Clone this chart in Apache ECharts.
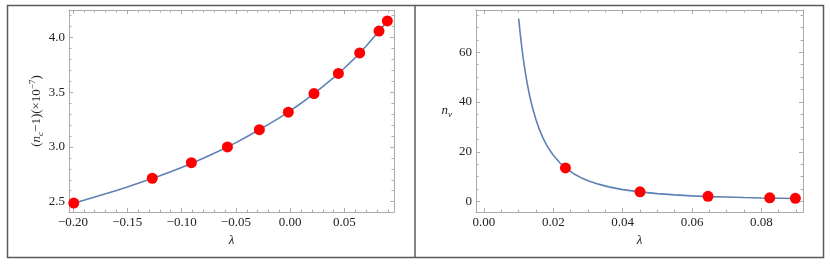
<!DOCTYPE html>
<html>
<head>
    <meta charset="utf-8">
    <title>ECharts</title>
    <script src="https://cdn.jsdelivr.net/npm/echarts@6/dist/echarts.min.js"></script>
</head>
<body style="margin:0;background:#fff;">
<div id="main" style="width: 830px;height:264px;"></div>
<script type="text/javascript">
    // left panel: (n_c - 1) against lambda, fitted curve + measured points
    var leftCurveLambda = [-0.1993, -0.19, -0.18, -0.17, -0.16, -0.15, -0.14, -0.13, -0.12, -0.11, -0.10,
                           -0.09, -0.08, -0.07, -0.06, -0.05, -0.04, -0.03, -0.02, -0.01, 0.00,
                           0.01, 0.02, 0.03, 0.04, 0.05, 0.06, 0.07, 0.08, 0.0895];
    var leftCurveIndex  = [2.487, 2.513, 2.542, 2.572, 2.603, 2.635, 2.668, 2.702, 2.737, 2.774, 2.813,
                           2.854, 2.897, 2.942, 2.989, 3.039, 3.092, 3.148, 3.205, 3.265, 3.328,
                           3.398, 3.472, 3.55, 3.632, 3.72, 3.815, 3.92, 4.035, 4.149];
    var leftLambda = [-0.1993, -0.127, -0.091, -0.0578, -0.0284, -0.0017, 0.0219, 0.0444, 0.064, 0.0818, 0.0895];
    var leftIndex  = [2.487, 2.714, 2.856, 3.0, 3.157, 3.317, 3.487, 3.67, 3.857, 4.057, 4.149];

    // right panel: n_v against lambda (curve + points)
    var curveLambda = [0.0100, 0.0105, 0.011, 0.0115, 0.012, 0.0125, 0.013, 0.0135, 0.014, 0.015, 0.016,
                       0.017, 0.018, 0.019, 0.020, 0.022, 0.024, 0.026, 0.028, 0.030, 0.033, 0.036,
                       0.040, 0.045, 0.050, 0.055, 0.060, 0.065, 0.070, 0.075, 0.080, 0.085, 0.090];
    var curveNv     = [73.6, 66.8, 60.9, 55.7, 51.2, 47.2, 43.7, 40.5, 37.7, 32.9, 28.9,
                       25.6, 22.9, 20.6, 18.6, 15.4, 13.0, 11.1, 9.6, 8.4, 7.0, 5.9,
                       4.8, 3.9, 3.2, 2.7, 2.3, 2.0, 1.8, 1.6, 1.45, 1.35, 1.25];
    var pointLambda = [0.0235, 0.045, 0.0646, 0.0824, 0.0898];
    var pointNv     = [13.5, 3.9, 2.1, 1.5, 1.3];

    // tick positions
    var leftXMajor = [-0.20, -0.15, -0.10, -0.05, 0.00, 0.05];
    var leftXMinor = [-0.19, -0.18, -0.17, -0.16, -0.14, -0.13, -0.12, -0.11, -0.09, -0.08, -0.07, -0.06,
                      -0.04, -0.03, -0.02, -0.01, 0.01, 0.02, 0.03, 0.04, 0.06, 0.07, 0.08, 0.09];
    var leftYMajor = [2.5, 3.0, 3.5, 4.0];
    var leftYMinor = [2.6, 2.7, 2.8, 2.9, 3.1, 3.2, 3.3, 3.4, 3.6, 3.7, 3.8, 3.9, 4.1, 4.2];
    var rightXMajor = [0, 0.02, 0.04, 0.06, 0.08];
    var rightXMinor = [0.005, 0.01, 0.015, 0.025, 0.03, 0.035, 0.045, 0.05, 0.055, 0.065, 0.07, 0.075, 0.085, 0.09];
    var rightYMajor = [0, 20, 40, 60];
    var rightYMinor = [5, 10, 15, 25, 30, 35, 45, 50, 55, 65, 70, 75];

    var FONT = 'Liberation Serif';
    var FRAME = '#ababab';

    function pairs(xs, ys) {
        return xs.map(function (x, i) { return [x, ys[i]]; });
    }

    // one axis of the frame; major ones carry the line (and labels if wanted)
    function axis(opt) {
        var major = opt.major;
        var a = {
            type: 'value',
            gridIndex: opt.grid,
            position: opt.position,
            min: opt.min,
            max: opt.max,
            splitLine: { show: false },
            axisLine: { show: major, onZero: false, lineStyle: { color: FRAME, width: 1 } },
            axisTick: {
                show: true,
                inside: true,
                length: major ? 4 : 2.5,
                customValues: opt.ticks,
                lineStyle: { color: FRAME, width: 1 }
            },
            axisLabel: {
                show: !!opt.fmt,
                customValues: opt.ticks,
                formatter: opt.fmt,
                margin: 4,
                fontFamily: FONT,
                fontSize: 13,
                color: '#222'
            }
        };
        if (opt.name) {
            a.name = opt.name;
            a.nameLocation = 'middle';
            a.nameGap = opt.nameGap;
            a.nameRotate = opt.nameRotate;
            a.nameTextStyle = opt.nameTextStyle;
        }
        return a;
    }

    function minus(s) { return s.replace('-', '\u2212'); }

    var nameStyle = {
        fontFamily: FONT,
        fontSize: 13,
        color: '#222',
        lineHeight: 17,
        rich: {
            i: { fontFamily: FONT, fontSize: 13, fontStyle: 'italic', color: '#222', lineHeight: 17 },
            sub: { fontFamily: FONT, fontSize: 9, fontStyle: 'italic', color: '#222', lineHeight: 10, verticalAlign: 'bottom' },
            sup: { fontFamily: FONT, fontSize: 9, color: '#222', lineHeight: 10, verticalAlign: 'top' }
        }
    };
    var lambdaStyle = { fontFamily: FONT, fontSize: 13, fontStyle: 'italic', color: '#222' };

    var LX = [-0.2037, 0.0956], LY = [2.406, 4.249];
    var RX = [-0.0023, 0.092], RY = [-4.2, 77.0];

    var myChart = echarts.init(document.getElementById('main'));

    var option = {
        backgroundColor: '#fff',
        animation: false,
        grid: [
            { left: 69, top: 10, width: 325, height: 202 },
            { left: 476, top: 10, width: 327, height: 202 }
        ],
        xAxis: [
            axis({ grid: 0, position: 'bottom', major: true, min: LX[0], max: LX[1], ticks: leftXMajor,
                   fmt: function (v) { return minus(v.toFixed(2)); },
                   name: '\u03bb', nameGap: 22, nameTextStyle: lambdaStyle }),
            axis({ grid: 0, position: 'bottom', major: false, min: LX[0], max: LX[1], ticks: leftXMinor }),
            axis({ grid: 0, position: 'top', major: true, min: LX[0], max: LX[1], ticks: leftXMajor }),
            axis({ grid: 0, position: 'top', major: false, min: LX[0], max: LX[1], ticks: leftXMinor }),
            axis({ grid: 1, position: 'bottom', major: true, min: RX[0], max: RX[1], ticks: rightXMajor,
                   fmt: function (v) { return v.toFixed(2); },
                   name: '\u03bb', nameGap: 22, nameTextStyle: lambdaStyle }),
            axis({ grid: 1, position: 'bottom', major: false, min: RX[0], max: RX[1], ticks: rightXMinor }),
            axis({ grid: 1, position: 'top', major: true, min: RX[0], max: RX[1], ticks: rightXMajor }),
            axis({ grid: 1, position: 'top', major: false, min: RX[0], max: RX[1], ticks: rightXMinor })
        ],
        yAxis: [
            axis({ grid: 0, position: 'left', major: true, min: LY[0], max: LY[1], ticks: leftYMajor,
                   fmt: function (v) { return v.toFixed(1); },
                   name: '({i|n}{sub|c}\u22121)(\u00d710{sup|\u22127})', nameGap: 24, nameRotate: 90,
                   nameTextStyle: nameStyle }),
            axis({ grid: 0, position: 'left', major: false, min: LY[0], max: LY[1], ticks: leftYMinor }),
            axis({ grid: 0, position: 'right', major: true, min: LY[0], max: LY[1], ticks: leftYMajor }),
            axis({ grid: 0, position: 'right', major: false, min: LY[0], max: LY[1], ticks: leftYMinor }),
            axis({ grid: 1, position: 'left', major: true, min: RY[0], max: RY[1], ticks: rightYMajor,
                   fmt: function (v) { return String(Math.round(v)); },
                   name: '{i|n}{sub|v}', nameGap: 24, nameRotate: 0,
                   nameTextStyle: nameStyle }),
            axis({ grid: 1, position: 'left', major: false, min: RY[0], max: RY[1], ticks: rightYMinor }),
            axis({ grid: 1, position: 'right', major: true, min: RY[0], max: RY[1], ticks: rightYMajor }),
            axis({ grid: 1, position: 'right', major: false, min: RY[0], max: RY[1], ticks: rightYMinor })
        ],
        series: [
            {
                type: 'line',
                xAxisIndex: 0,
                yAxisIndex: 0,
                smooth: false,
                showSymbol: false,
                lineStyle: { color: '#5E81B5', width: 1.6 },
                data: pairs(leftCurveLambda, leftCurveIndex),
                z: 2
            },
            {
                type: 'scatter',
                xAxisIndex: 0,
                yAxisIndex: 0,
                symbolSize: 11,
                itemStyle: { color: '#ff0000', opacity: 1 },
                data: pairs(leftLambda, leftIndex),
                z: 3
            },
            {
                type: 'line',
                xAxisIndex: 4,
                yAxisIndex: 4,
                smooth: false,
                showSymbol: false,
                lineStyle: { color: '#5E81B5', width: 1.6 },
                data: pairs(curveLambda, curveNv),
                z: 2
            },
            {
                type: 'scatter',
                xAxisIndex: 4,
                yAxisIndex: 4,
                symbolSize: 11,
                itemStyle: { color: '#ff0000', opacity: 1 },
                data: pairs(pointLambda, pointNv),
                z: 3
            }
        ],
        graphic: [
            {
                type: 'rect',
                shape: { x: 7.5, y: 5.5, width: 816, height: 252 },
                style: { fill: 'none', stroke: '#5a5a5a', lineWidth: 1.5 },
                silent: true
            },
            {
                type: 'line',
                shape: { x1: 415, y1: 5.5, x2: 415, y2: 257.5 },
                style: { stroke: '#5a5a5a', lineWidth: 1.5 },
                silent: true
            }
        ]
    };

    myChart.setOption(option);
</script>
</body>
</html>
